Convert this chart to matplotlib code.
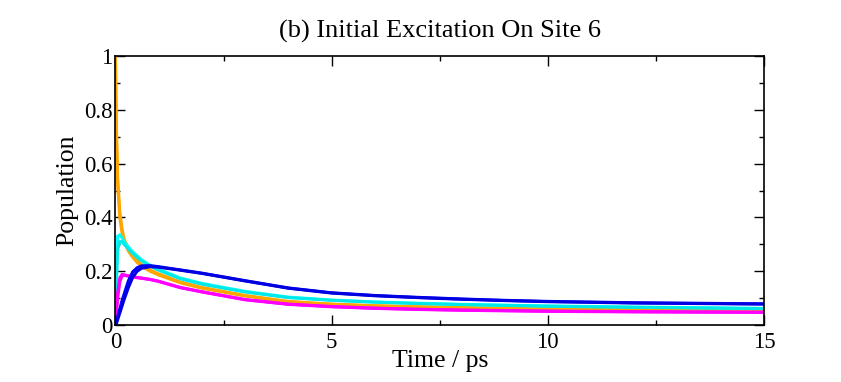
"""Site populations after initial excitation on site 6."""

import matplotlib
matplotlib.use("Agg")
import matplotlib.pyplot as plt
from matplotlib.ticker import MultipleLocator

# time grid (ps)
time_ps = [0, 0.02, 0.05, 0.1, 0.15, 0.2, 0.3, 0.4, 0.5, 0.6, 0.8, 1.0,
           1.5, 2, 3, 4, 5, 6, 7, 8, 9, 10, 12, 15]

# each colour appears as a pair of nearly overlapping curves
orange_a = [1.0, 0.75, 0.55, 0.42, 0.36, 0.32, 0.285, 0.26, 0.24, 0.225, 0.205, 0.19,
            0.16, 0.14, 0.11, 0.088, 0.078, 0.072, 0.068, 0.065, 0.062, 0.06, 0.058, 0.056]
orange_b = [0.98, 0.70, 0.52, 0.40, 0.345, 0.31, 0.275, 0.252, 0.233, 0.219, 0.2, 0.186,
            0.157, 0.137, 0.108, 0.086, 0.077, 0.071, 0.067, 0.064, 0.061, 0.059, 0.057, 0.055]
cyan_a = [0.0, 0.20, 0.33, 0.335, 0.325, 0.31, 0.29, 0.272, 0.257, 0.243, 0.222, 0.207,
          0.175, 0.155, 0.125, 0.104, 0.093, 0.086, 0.081, 0.077, 0.074, 0.071, 0.067, 0.062]
cyan_b = [0.0, 0.14, 0.28, 0.31, 0.31, 0.30, 0.283, 0.266, 0.252, 0.239, 0.219, 0.204,
          0.172, 0.152, 0.123, 0.102, 0.092, 0.085, 0.08, 0.076, 0.073, 0.07, 0.066, 0.061]
blue_a = [0.0, 0.01, 0.03, 0.06, 0.09, 0.115, 0.165, 0.198, 0.213, 0.22, 0.221, 0.217,
          0.205, 0.193, 0.165, 0.138, 0.12, 0.11, 0.103, 0.097, 0.092, 0.088, 0.083, 0.079]
blue_b = [0.0, 0.005, 0.02, 0.045, 0.07, 0.095, 0.14, 0.178, 0.2, 0.211, 0.217, 0.215,
          0.204, 0.192, 0.164, 0.137, 0.119, 0.109, 0.102, 0.096, 0.091, 0.087, 0.082, 0.078]
magenta_a = [0.0, 0.06, 0.12, 0.175, 0.188, 0.187, 0.183, 0.18, 0.177, 0.175, 0.17, 0.163,
             0.14, 0.124, 0.095, 0.078, 0.069, 0.063, 0.059, 0.056, 0.054, 0.052, 0.05, 0.048]
magenta_b = [0.0, 0.04, 0.10, 0.16, 0.182, 0.185, 0.182, 0.179, 0.176, 0.174, 0.169, 0.162,
             0.139, 0.123, 0.094, 0.077, 0.068, 0.062, 0.058, 0.055, 0.053, 0.051, 0.049, 0.047]

SERIES = [
    (orange_a, "#ffa500"), (orange_b, "#ffa500"),
    (cyan_a, "#00ffff"), (cyan_b, "#00e8e8"),
    (magenta_a, "#ff00ff"), (magenta_b, "#ff00ff"),
    (blue_a, "#0000ff"), (blue_b, "#0000e0"),
]


def main() -> None:
    plt.rcParams["font.family"] = ["Liberation Serif", "DejaVu Serif"]

    fig = plt.figure(figsize=(8.41, 3.82), dpi=100)
    ax = fig.add_axes([0.1373, 0.149, 0.7711, 0.7044])

    for values, color in SERIES:
        ax.plot(time_ps, values, color=color, linewidth=2.2, solid_joinstyle="miter")

    ax.set_xlim(0, 15)
    ax.set_ylim(0, 1)
    ax.xaxis.set_major_locator(MultipleLocator(5))
    ax.xaxis.set_minor_locator(MultipleLocator(2.5))
    ax.yaxis.set_minor_locator(MultipleLocator(0.1))
    ax.set_yticks([0, 0.2, 0.4, 0.6, 0.8, 1.0])
    ax.set_yticklabels(["0", "0.2", "0.4", "0.6", "0.8", "1"])
    ax.tick_params(which="both", direction="in", top=True, right=True, width=1.0,
                   labelsize=16.5)
    ax.tick_params(axis="y", pad=2)
    ax.tick_params(axis="x", pad=5)
    ax.tick_params(which="major", length=7)
    ax.tick_params(which="minor", length=3.6)
    for spine in ax.spines.values():
        spine.set_linewidth(1.2)

    ax.set_xlabel("Time / ps", fontsize=18.5, labelpad=-2)
    ax.set_ylabel("Population", fontsize=18.5, labelpad=4)
    ax.set_title("(b) Initial Excitation On Site 6", fontsize=19, pad=13)

    fig.savefig("out.png", dpi=100)
    plt.close(fig)


if __name__ == "__main__":
    main()
